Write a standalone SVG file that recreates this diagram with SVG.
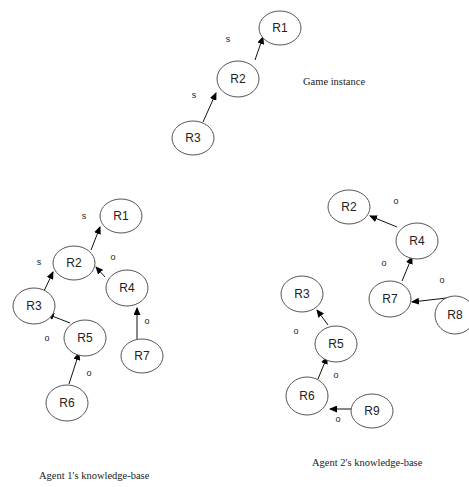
<svg xmlns="http://www.w3.org/2000/svg" width="469" height="487" viewBox="0 0 469 487">
<style>
.n ellipse{fill:#fff;stroke:#555;stroke-width:1}
.n text{font-family:"Liberation Sans",Arial,sans-serif;font-size:12px;fill:#222;text-anchor:middle;dominant-baseline:central}
.e line{stroke:#111;stroke-width:1;marker-end:url(#ah)}
.l{font-family:"Liberation Sans",Arial,sans-serif;font-size:9px;fill:#222;text-anchor:middle}
.c{font-family:"Liberation Serif","Times New Roman",serif;font-size:10.5px;fill:#222}
</style>
<defs>
<marker id="ah" markerWidth="8" markerHeight="7" refX="7" refY="3.5" orient="auto" markerUnits="userSpaceOnUse">
<path d="M0,0 L8,3.5 L0,7 Z" fill="#000"/>
</marker>
</defs>
<rect width="469" height="487" fill="#fff"/>
<g id="connectors" class="e">
<line x1="255" y1="60" x2="263" y2="37"/>
<line x1="203" y1="122" x2="216" y2="93"/>
<line x1="91" y1="250" x2="100" y2="227"/>
<line x1="44" y1="291" x2="53" y2="272"/>
<line x1="105" y1="277" x2="96" y2="267"/>
<line x1="70" y1="323" x2="47" y2="314"/>
<line x1="69" y1="384" x2="79" y2="353"/>
<line x1="137" y1="339" x2="137" y2="308"/>
<line x1="397" y1="227" x2="370" y2="216"/>
<line x1="402" y1="281" x2="412" y2="257"/>
<line x1="455" y1="297" x2="412" y2="302"/>
<line x1="328" y1="325" x2="317" y2="310"/>
<line x1="318" y1="379" x2="327" y2="357"/>
<line x1="352" y1="409" x2="330" y2="409"/>
</g>
<g id="labels">
<text class="l" x="228" y="42">s</text>
<text class="l" x="194" y="98">s</text>
<text class="l" x="84" y="219">s</text>
<text class="l" x="39" y="265">s</text>
<text class="l" x="113" y="260">o</text>
<text class="l" x="47" y="341">o</text>
<text class="l" x="147" y="324">o</text>
<text class="l" x="89" y="376">o</text>
<text class="l" x="396" y="204">o</text>
<text class="l" x="384" y="266">o</text>
<text class="l" x="442" y="283">o</text>
<text class="l" x="296" y="334">o</text>
<text class="l" x="336" y="378">o</text>
<text class="l" x="338" y="422">o</text>
</g>
<g id="game-R1" class="n"><ellipse cx="280" cy="28" rx="21" ry="17"/><text x="280" y="28">R1</text></g>
<g id="game-R2" class="n"><ellipse cx="238" cy="79" rx="21" ry="18"/><text x="238" y="79">R2</text></g>
<g id="game-R3" class="n"><ellipse cx="193" cy="138" rx="21" ry="17"/><text x="193" y="138">R3</text></g>
<g id="a1-R1" class="n"><ellipse cx="121" cy="216" rx="21" ry="17"/><text x="121" y="216">R1</text></g>
<g id="a1-R2" class="n"><ellipse cx="74" cy="263" rx="21" ry="17"/><text x="74" y="263">R2</text></g>
<g id="a1-R3" class="n"><ellipse cx="34" cy="306" rx="21" ry="18"/><text x="34" y="306">R3</text></g>
<g id="a1-R4" class="n"><ellipse cx="127" cy="288" rx="21" ry="18"/><text x="127" y="288">R4</text></g>
<g id="a1-R5" class="n"><ellipse cx="85" cy="338" rx="21" ry="18"/><text x="85" y="338">R5</text></g>
<g id="a1-R6" class="n"><ellipse cx="67" cy="403" rx="21" ry="18"/><text x="67" y="403">R6</text></g>
<g id="a1-R7" class="n"><ellipse cx="142" cy="356" rx="21" ry="17"/><text x="142" y="356">R7</text></g>
<g id="a2-R2" class="n"><ellipse cx="349" cy="207" rx="21" ry="17"/><text x="349" y="207">R2</text></g>
<g id="a2-R4" class="n"><ellipse cx="417" cy="241" rx="21" ry="18"/><text x="417" y="241">R4</text></g>
<g id="a2-R7" class="n"><ellipse cx="390" cy="299" rx="21" ry="18"/><text x="390" y="299">R7</text></g>
<g id="a2-R8" class="n"><ellipse cx="455" cy="315" rx="20" ry="19"/><text x="455" y="315">R8</text></g>
<g id="a2-R3" class="n"><ellipse cx="302" cy="294" rx="21" ry="18"/><text x="302" y="294">R3</text></g>
<g id="a2-R5" class="n"><ellipse cx="336" cy="344" rx="21" ry="18"/><text x="336" y="344">R5</text></g>
<g id="a2-R6" class="n"><ellipse cx="307" cy="396" rx="21" ry="19"/><text x="307" y="396">R6</text></g>
<g id="a2-R9" class="n"><ellipse cx="372" cy="411" rx="21" ry="17"/><text x="372" y="411">R9</text></g>
<g id="captions">
<text class="c" x="303" y="85">Game instance</text>
<text class="c" x="39" y="479">Agent 1's knowledge-base</text>
<text class="c" x="312" y="466">Agent 2's knowledge-base</text>
</g>
</svg>
